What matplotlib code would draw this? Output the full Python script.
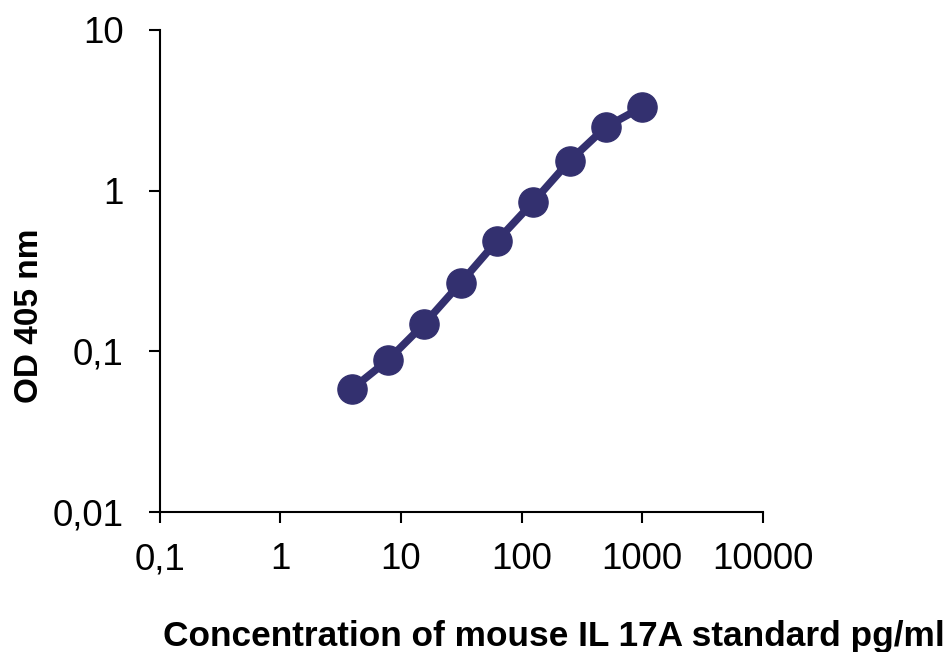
import matplotlib
matplotlib.use("Agg")
import matplotlib.pyplot as plt
from matplotlib.ticker import FixedLocator, FixedFormatter, NullLocator

plt.rcParams['font.family'] = ['Liberation Sans', 'DejaVu Sans']

# standard curve, mouse IL 17A
conc = [3.9, 7.8, 15.6, 31.25, 62.5, 125, 250, 500, 1000]
od = [0.058, 0.088, 0.148, 0.266, 0.486, 0.85, 1.53, 2.49, 3.31]

x_ticks = [0.1, 1, 10, 100, 1000, 10000]
x_labels = ["0,1", "1", "10", "100", "1000", "10000"]
y_ticks = [0.01, 0.1, 1, 10]
y_labels = ["0,01", "0,1", "1", "10"]

fig = plt.figure(figsize=(9.51, 6.52), dpi=100)
ax = fig.add_axes([0.168, 0.215, 0.634, 0.739])

ax.plot(conc, od, color="#33306f", lw=5.5, marker="o", ms=21,
        solid_capstyle="round")

ax.set_xscale("log")
ax.set_yscale("log")
ax.set_xlim(0.1, 10000)
ax.set_ylim(0.01, 10)

ax.xaxis.set_major_locator(FixedLocator(x_ticks))
ax.xaxis.set_major_formatter(FixedFormatter(x_labels))
ax.xaxis.set_minor_locator(NullLocator())
ax.yaxis.set_major_locator(FixedLocator(y_ticks))
ax.yaxis.set_major_formatter(FixedFormatter(y_labels))
ax.yaxis.set_minor_locator(NullLocator())

for s in ["top", "right"]:
    ax.spines[s].set_visible(False)
for s in ["left", "bottom"]:
    ax.spines[s].set_linewidth(1.5)

ax.tick_params(direction="out", length=8, width=1.5, labelsize=26.5)
ax.tick_params(axis="y", pad=18)
ax.tick_params(axis="x", pad=14)

# axis titles placed on the figure, like the original
fig.text(945 / 951, 1 - 646 / 652,
         "Concentration of mouse IL 17A standard pg/ml",
         fontsize=25.4, fontweight="bold", ha="right", va="baseline")
fig.text(30 / 951, 1 - 316 / 652, "OD 405 nm", fontsize=24,
         fontweight="bold", rotation=90, ha="center", va="center")

fig.savefig("out.png", dpi=100)
